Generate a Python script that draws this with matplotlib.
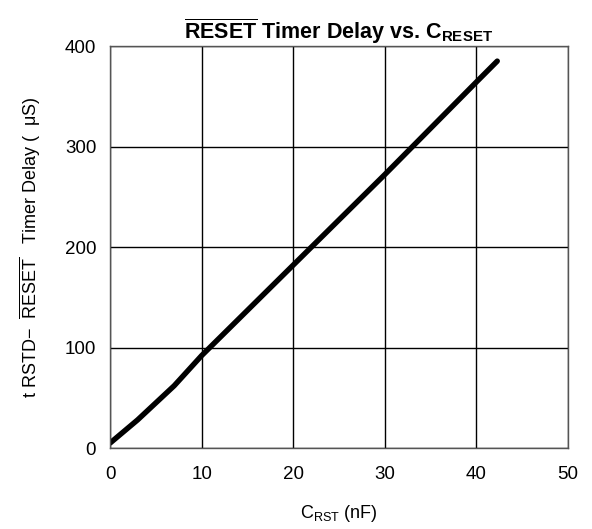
import numpy as np
import matplotlib.pyplot as plt

plt.rcParams['font.family'] = ['Liberation Sans', 'DejaVu Sans']
plt.rcParams['mathtext.fontset'] = 'custom'
plt.rcParams['mathtext.rm'] = 'Liberation Sans'
plt.rcParams['mathtext.it'] = 'Liberation Sans:italic'
plt.rcParams['mathtext.bf'] = 'Liberation Sans:bold'

# C_RST (nF) vs reset timer delay (us)
c_rst = [0, 3, 7, 10, 15, 20, 25, 30, 35, 40, 42.3]
t_delay = [5, 28, 62, 92, 137, 182, 227, 272, 318, 364, 385]

x_ticks = [0, 10, 20, 30, 40, 50]
y_ticks = [0, 100, 200, 300, 400]

fig = plt.figure(figsize=(5.92, 5.29), dpi=100)
ax = fig.add_axes([0.186, 0.153, 0.773, 0.760])

ax.plot(c_rst, t_delay, color='black', linewidth=3.9, solid_capstyle='round')

ax.set_xlim(0, 50)
ax.set_ylim(0, 400)
ax.set_xticks(x_ticks)
ax.set_yticks(y_ticks)
ax.grid(True, color='black', linewidth=1.0)
ax.tick_params(axis='y', length=0, labelsize=13.5, pad=10)
ax.tick_params(axis='x', length=0, labelsize=13.5, pad=13)
for sp in ax.spines.values():
    sp.set_color('#555555')
    sp.set_linewidth(1.0)

ax.set_title(r'$\mathbf{\overline{RESET}}$ Timer Delay vs. C$_{\mathbf{RESET}}$',
             fontsize=15.5, fontweight='bold', pad=5)
ax.set_xlabel(r'C$_{\mathrm{RST}}$ (nF)', fontsize=13, labelpad=14)
ax.set_ylabel(r't RSTD$-$  $\overline{\mathrm{RESET}}$   Timer Delay (  μS)',
              fontsize=13, labelpad=16)

fig.savefig('out.png', dpi=100)
